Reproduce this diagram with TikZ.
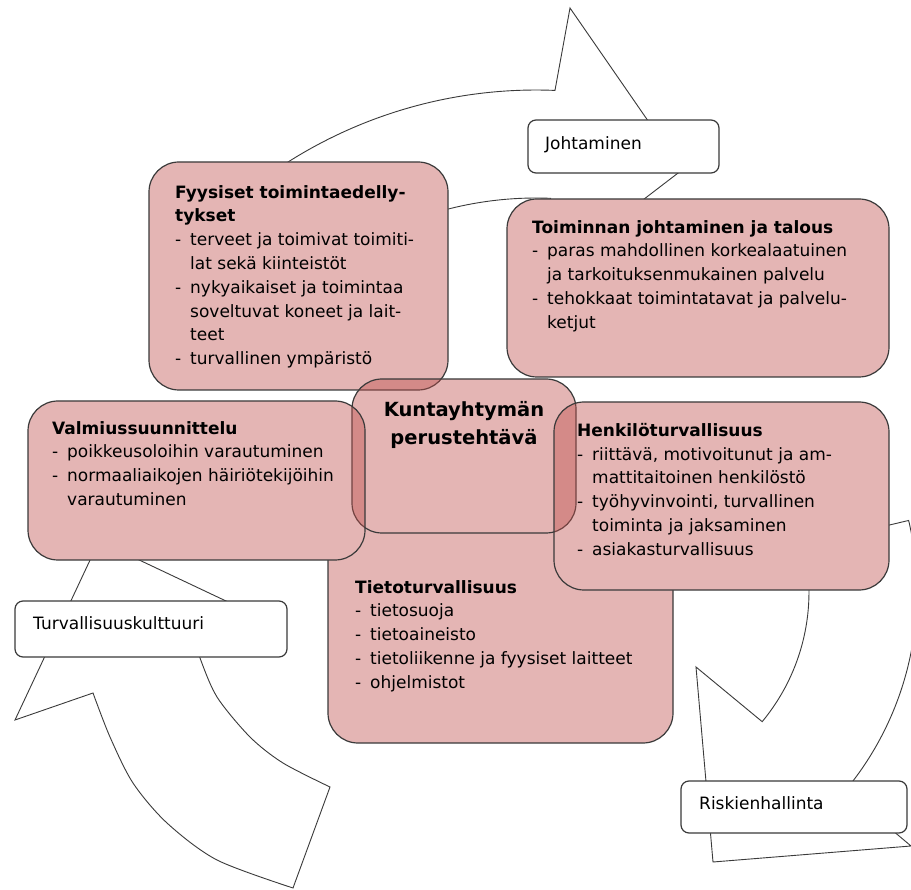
\documentclass[tikz,border=0pt]{standalone}
\usepackage{fontspec}
\setmainfont{DejaVu Sans}
\usetikzlibrary{positioning,calc}
\pgfdeclarelayer{back}
\pgfdeclarelayer{under}
\pgfsetlayers{back,under,main}
\definecolor{boxred}{HTML}{C0504D}
\definecolor{edgegray}{HTML}{3A3A3A}
\tikzset{areabox/.style={rectangle, rounded corners=30pt, draw=edgegray, line width=1.2pt, fill=boxred, fill opacity=0.42, anchor=north west, inner sep=0pt, outer sep=0pt},
  tagbox/.style={rectangle, rounded corners=8pt, draw=edgegray, line width=1.2pt, fill=white, anchor=north west, inner sep=0pt, outer sep=0pt},
  bodytext/.style={anchor=north west, inner sep=0pt, align=left, font=\fontsize{17}{23.8}\selectfont},
  cyclearrow/.style={draw=edgegray, line width=0.9pt, fill=white, line join=miter},}
\newcommand{\lidash}{\makebox[15pt][l]{-}}
\newcommand{\liskip}{\hspace*{15pt}}

\begin{document}
\begin{tikzpicture}[x=1pt, y=-1pt]
\useasboundingbox (0,0) rectangle (911,890);
\begin{pgfonlayer}{back}
\draw[cyclearrow] (536,553) ++(-130:463) arc[start angle=-130, end angle=-87.65, radius=463] -- (570,8) -- (682,170) -- (545,275) -- ($(536,553)+(-87.65:355)$) arc[start angle=-87.65, end angle=-130, radius=355] -- cycle;
\draw[cyclearrow] (606,592) ++(-13.3:311) arc[start angle=-13.3, end angle=39.7, radius=311] -- (911,846) -- (713,862) -- (696,667) -- ($(606,592)+(39.7:203)$) arc[start angle=39.7, end angle=-13.3, radius=203] -- cycle;
\draw[cyclearrow] (99,541) -- (15,720) -- (93,693) -- plot[smooth] coordinates {(93,693) (110,737) (133,783) (167,823) (217,860) (293,888)} -- (330,787) -- plot[smooth] coordinates {(330,787) (283,763) (250,737) (217,697) (200,658) (197,645)} -- (262,618) -- cycle;
\end{pgfonlayer}
\node[areabox, minimum width=299pt, minimum height=228pt] (fyys) at (149,162) {};
\node[areabox, minimum width=382pt, minimum height=178pt] (toim) at (507,199) {};
\node[areabox, minimum width=224pt, minimum height=154pt] (kunta) at (352,379) {};
\node[areabox, minimum width=337pt, minimum height=159pt] (valm) at (28,401) {};
\node[areabox, minimum width=335pt, minimum height=188pt] (henk) at (554,402) {};
\begin{pgfonlayer}{under}
\node[areabox, preaction={fill=white, fill opacity=1}, minimum width=345pt, minimum height=223pt] (tieto) at (328,520) {};
\foreach \b in {fyys,toim,kunta,valm,henk}
  \fill[white, rounded corners=30pt] (\b.north west) rectangle (\b.south east);
\end{pgfonlayer}
\node[tagbox, minimum width=191pt, minimum height=53pt] (johto) at (528,120) {};
\node[tagbox, minimum width=272pt, minimum height=56pt] (turva) at (15,601) {};
\node[tagbox, minimum width=226pt, minimum height=52pt] (riski) at (681,781) {};

\node[bodytext] (fyysT) at ([shift={(26pt,-23pt)}]fyys.north west) {\textbf{Fyysiset toimintaedelly-}\\\textbf{tykset}\\\lidash terveet ja toimivat toimiti-\\\liskip lat sekä kiinteistöt\\\lidash nykyaikaiset ja toimintaa\\\liskip soveltuvat koneet ja lait-\\\liskip teet\\\lidash turvallinen ympäristö};
\node[bodytext] (toimT) at ([shift={(25pt,-21pt)}]toim.north west) {\textbf{Toiminnan johtaminen ja talous}\\\lidash paras mahdollinen korkealaatuinen\\\liskip ja tarkoituksenmukainen palvelu\\\lidash tehokkaat toimintatavat ja palvelu-\\\liskip ketjut};
\node[anchor=north, inner sep=0pt, align=center, font=\fontsize{19.5}{28}\selectfont\bfseries] (kuntaT) at ([yshift=-22pt]kunta.north) {Kuntayhtymän\\perustehtävä};
\node[bodytext] (valmT) at ([shift={(24pt,-20pt)}]valm.north west) {\textbf{Valmiussuunnittelu}\\\lidash poikkeusoloihin varautuminen\\\lidash normaaliaikojen häiriötekijöihin\\\liskip varautuminen};
\node[bodytext] (henkT) at ([shift={(23pt,-21pt)}]henk.north west) {\textbf{Henkilöturvallisuus}\\\lidash riittävä, motivoitunut ja am-\\\liskip mattitaitoinen henkilöstö\\\lidash työhyvinvointi, turvallinen\\\liskip toiminta ja jaksaminen\\\lidash asiakasturvallisuus};
\node[bodytext] (tietoT) at ([shift={(27pt,-60pt)}]tieto.north west) {\textbf{Tietoturvallisuus}\\\lidash tietosuoja\\\lidash tietoaineisto\\\lidash tietoliikenne ja fyysiset laitteet\\\lidash ohjelmistot};
\node[bodytext] (johtoT) at ([shift={(17pt,-16pt)}]johto.north west) {Johtaminen};
\node[bodytext] (turvaT) at ([shift={(18pt,-15pt)}]turva.north west) {Turvallisuuskulttuuri};
\node[bodytext] (riskiT) at ([shift={(18pt,-15pt)}]riski.north west) {Riskienhallinta};
\end{tikzpicture}
\end{document}
